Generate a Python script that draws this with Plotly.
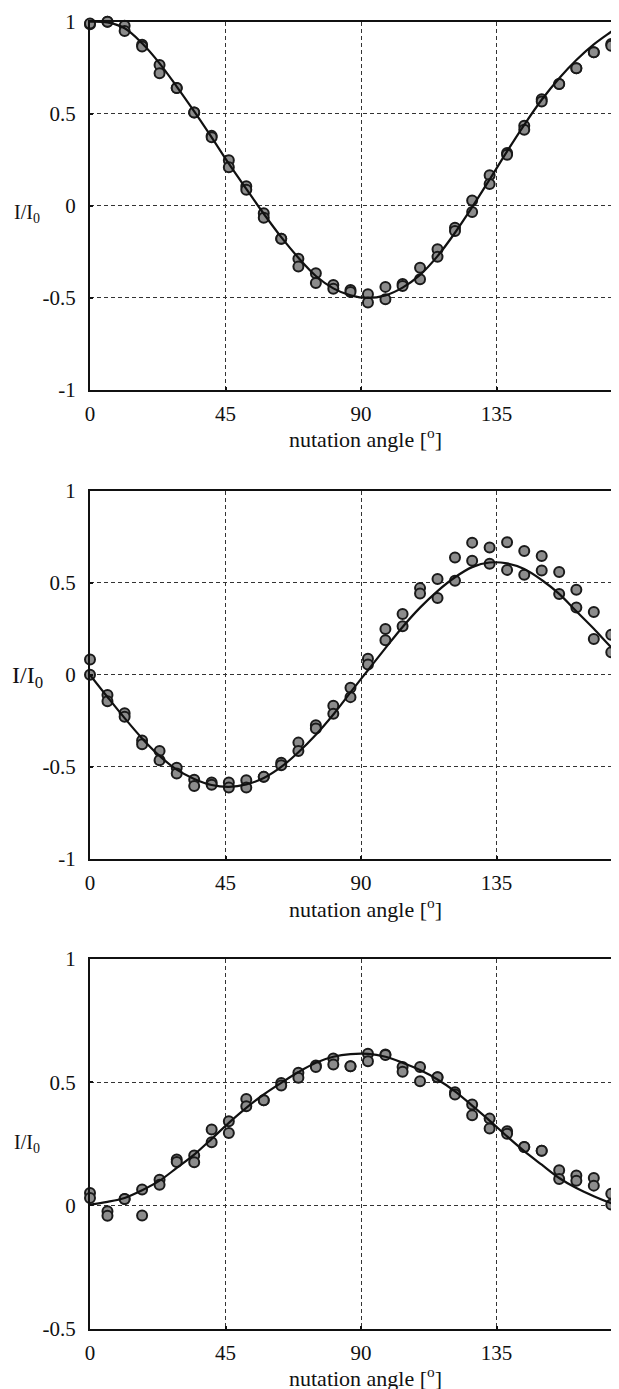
import plotly.graph_objects as go

# nutation angles of the measured points (degrees)
ANGLES = [0, 5.8, 11.5, 17.3, 23.1, 28.8, 34.6, 40.4, 46.1, 51.9, 57.7, 63.5,
          69.2, 75.0, 80.8, 86.5, 92.3, 98.1, 103.8, 109.6, 115.4, 121.2,
          126.9, 132.7, 138.5, 144.2, 150.0, 155.8, 161.5, 167.3, 173.1]
CURVE_ANGLES = ANGLES + [175]

# Panel 1 (two measurement runs) and fitted curve
P1_RUN1 = [0.986, 1.0, 0.978, 0.875, 0.765, 0.64, 0.507, 0.38, 0.247, 0.107, -0.04,
           -0.179, -0.287, -0.366, -0.43, -0.457, -0.48, -0.44, -0.425, -0.336,
           -0.236, -0.119, 0.029, 0.166, 0.287, 0.435, 0.579, 0.662, 0.747, 0.834, 0.879]
P1_RUN2 = [0.99, 1.0, 0.95, 0.865, 0.72, 0.64, 0.507, 0.372, 0.209, 0.088, -0.065,
           -0.179, -0.33, -0.419, -0.45, -0.468, -0.525, -0.507, -0.435, -0.399,
           -0.276, -0.137, -0.034, 0.119, 0.278, 0.413, 0.567, 0.662, 0.747, 0.834, 0.87]
P1_CURVE = [1.0, 0.996, 0.964, 0.883, 0.774, 0.648, 0.513, 0.372, 0.229, 0.092, -0.043,
            -0.17, -0.282, -0.381, -0.448, -0.486, -0.5, -0.486, -0.444, -0.375,
            -0.273, -0.146, -0.007, 0.143, 0.296, 0.44, 0.576, 0.693, 0.792, 0.877,
            0.946, 0.968]

# Panel 2
P2_RUN1 = [0.083, -0.11, -0.209, -0.356, -0.413, -0.504, -0.569, -0.585, -0.585,
           -0.572, -0.554, -0.477, -0.368, -0.274, -0.168, -0.07, 0.088, 0.249, 0.33,
           0.471, 0.52, 0.637, 0.718, 0.691, 0.72, 0.673, 0.646, 0.558, 0.462, 0.341, 0.218]
P2_RUN2 = [0.0, -0.143, -0.227, -0.377, -0.464, -0.536, -0.603, -0.597, -0.612,
           -0.612, -0.554, -0.491, -0.413, -0.291, -0.211, -0.121, 0.056, 0.188, 0.264,
           0.442, 0.417, 0.511, 0.619, 0.603, 0.57, 0.543, 0.567, 0.439, 0.366, 0.195, 0.123]
P2_CURVE = [0.0, -0.12, -0.235, -0.345, -0.44, -0.515, -0.565, -0.598, -0.608, -0.595,
            -0.56, -0.5, -0.42, -0.325, -0.215, -0.095, 0.025, 0.145, 0.26, 0.365,
            0.455, 0.53, 0.585, 0.61, 0.605, 0.575, 0.515, 0.44, 0.345, 0.25, 0.15, 0.125]

# Panel 3
P3_RUN1 = [0.05, -0.024, 0.026, 0.064, 0.104, 0.186, 0.202, 0.308, 0.341, 0.432,
           0.427, 0.497, 0.538, 0.568, 0.596, 0.565, 0.615, 0.612, 0.562, 0.562,
           0.52, 0.459, 0.409, 0.352, 0.301, 0.237, 0.222, 0.142, 0.121, 0.111, 0.047]
P3_RUN2 = [0.03, -0.042, 0.026, -0.041, 0.084, 0.176, 0.175, 0.256, 0.294, 0.402,
           0.427, 0.486, 0.518, 0.562, 0.572, 0.565, 0.585, 0.61, 0.542, 0.504,
           0.52, 0.45, 0.366, 0.312, 0.291, 0.237, 0.222, 0.107, 0.1, 0.08, 0.003]
P3_CURVE = [0.003, 0.014, 0.03, 0.061, 0.1, 0.152, 0.206, 0.27, 0.335, 0.396, 0.45,
            0.497, 0.541, 0.579, 0.603, 0.614, 0.615, 0.603, 0.579, 0.549, 0.511,
            0.463, 0.405, 0.344, 0.28, 0.22, 0.165, 0.111, 0.07, 0.037, 0.009, 0.003]

X_TICKS = [0, 45, 90, 135]
Y_TICKS_A = [-1, -0.5, 0, 0.5, 1]
Y_TICK_TEXT_A = ["-1", "-0.5", "0", "0.5", "1"]
Y_TICKS_B = [-0.5, 0, 0.5, 1]
Y_TICK_TEXT_B = ["-0.5", "0", "0.5", "1"]

# The page body has an 8px margin: the figure starts at (8, 8) in the window
PAGE_W, PAGE_H, BODY = 619, 1389, 8
W, H = PAGE_W - BODY, PAGE_H - BODY


def px(x):
    return (x - BODY) / W


def py(y):
    return 1 - (y - BODY) / H


FONT = "'Liberation Serif', 'Times New Roman', serif"
X_LEFT, X_RIGHT = 90, 617
# (top px, bottom px, y range, tickvals, ticktext, label size, label y value, title offset)
PANELS = [
    (21.7, 390.0, [-1, 1], Y_TICKS_A, Y_TICK_TEXT_A, 20, -0.04, 48, P1_RUN1, P1_RUN2, P1_CURVE),
    (490.7, 859.0, [-1, 1], Y_TICKS_A, Y_TICK_TEXT_A, 24, -0.01, 49, P2_RUN1, P2_RUN2, P2_CURVE),
    (959.0, 1328.5, [-0.5, 1], Y_TICKS_B, Y_TICK_TEXT_B, 20, 0.25, 48, P3_RUN1, P3_RUN2, P3_CURVE),
]

fig = go.Figure()
annotations = []
marker = dict(size=10, color="#8c8c8c", line=dict(color="#1a1a1a", width=2))

for i, (top, bot, yr, tv, tt, lsize, ly, toff, r1, r2, cv) in enumerate(PANELS):
    n = "" if i == 0 else str(i + 1)
    xa, ya = "x" + n, "y" + n
    for run in (r1, r2):
        fig.add_trace(go.Scatter(x=ANGLES, y=run, mode="markers", marker=marker,
                                 cliponaxis=False, xaxis=xa, yaxis=ya, showlegend=False))
    fig.add_trace(go.Scatter(x=CURVE_ANGLES, y=cv, mode="lines", line_shape="spline",
                             line=dict(color="#111111", width=2.2),
                             xaxis=xa, yaxis=ya, showlegend=False))
    common = dict(showline=True, mirror=True, linecolor="#111111", linewidth=2,
                  showgrid=True, gridcolor="#333333", gridwidth=1, griddash="4px,3px",
                  zeroline=False, ticks="inside", ticklen=3, tickwidth=1.5,
                  tickcolor="#111111", automargin=False,
                  tickfont=dict(family=FONT, size=21, color="#111111"))
    fig.update_layout(**{
        "xaxis" + n: dict(common, domain=[px(X_LEFT), px(X_RIGHT)], range=[0, 175],
                          tickvals=X_TICKS, anchor=ya, ticklabelstandoff=4),
        "yaxis" + n: dict(common, domain=[py(bot), py(top)], range=yr,
                          tickvals=tv, ticktext=tt, anchor=xa, ticklabelstandoff=8),
    })
    annotations.append(dict(text="I/I<sub>0</sub>", xref="paper", yref=ya, x=px(27), y=ly,
                            xanchor="center", yanchor="middle", showarrow=False,
                            font=dict(family=FONT, size=lsize, color="#111111")))
    annotations.append(dict(text="nutation angle [<sup>o</sup>]", xref="paper", yref="paper",
                            x=px((X_LEFT + X_RIGHT) / 2 + 12), y=py(bot + toff),
                            xanchor="center", yanchor="middle", showarrow=False,
                            font=dict(family=FONT, size=22, color="#111111")))

fig.update_layout(width=W, height=H, autosize=False,
                  margin=dict(l=0, r=0, t=0, b=0, autoexpand=False),
                  paper_bgcolor="white", plot_bgcolor="white",
                  font=dict(family=FONT, color="#111111"),
                  annotations=annotations)

fig.write_html("out.html")
